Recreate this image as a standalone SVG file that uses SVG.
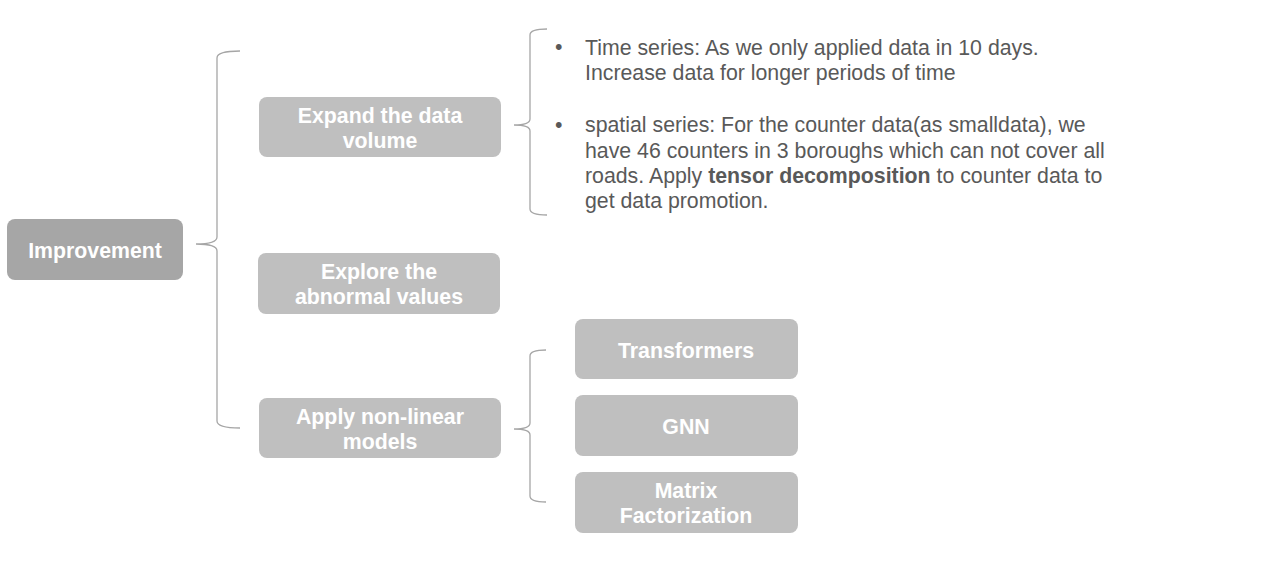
<svg xmlns="http://www.w3.org/2000/svg" width="1261" height="565" viewBox="0 0 1261 565">
<style>
.box{fill:#bfbfbf}
.root{fill:#a6a6a6}
.lbl{font-family:"Liberation Sans",Arial,sans-serif;font-size:21.3px;font-weight:bold;fill:#ffffff;text-anchor:middle}
.txt{font-family:"Liberation Sans",Arial,sans-serif;font-size:21.3px;fill:#595959}
.br{fill:none;stroke:#a6a6a6;stroke-width:1.3}
</style>
<rect width="1261" height="565" fill="#ffffff"/>
<g id="connectors">
<path class="br" d="M240,51 Q217,51 217,58 L217,237 Q217,244 196,244 Q217,244 217,251 L217,421 Q217,428 240,428"/>
<path class="br" d="M547,29 Q530,29 530,35 L530,119 Q530,125 514,125 Q530,125 530,131 L530,209 Q530,215 547,215"/>
<path class="br" d="M546,350 Q530,350 530,356 L530,423 Q530,429 514,429 Q530,429 530,435 L530,496 Q530,502 546,502"/>
</g>
<g id="improvement">
<rect class="root" x="7" y="219" width="176" height="61" rx="8"/>
<text class="lbl" x="95" y="258">Improvement</text>
</g>
<g id="expand">
<rect class="box" x="259" y="97" width="242" height="60" rx="8"/>
<text class="lbl" x="380" y="123">Expand the data</text>
<text class="lbl" x="380" y="148">volume</text>
</g>
<g id="explore">
<rect class="box" x="258" y="253" width="242" height="61" rx="8"/>
<text class="lbl" x="379" y="279">Explore the</text>
<text class="lbl" x="379" y="304">abnormal values</text>
</g>
<g id="apply">
<rect class="box" x="259" y="398" width="242" height="60" rx="8"/>
<text class="lbl" x="380" y="424">Apply non-linear</text>
<text class="lbl" x="380" y="449">models</text>
</g>
<g id="transformers">
<rect class="box" x="575" y="319" width="223" height="60" rx="8"/>
<text class="lbl" x="686" y="358">Transformers</text>
</g>
<g id="gnn">
<rect class="box" x="575" y="395" width="223" height="61" rx="8"/>
<text class="lbl" x="686" y="434">GNN</text>
</g>
<g id="matrix">
<rect class="box" x="575" y="472" width="223" height="61" rx="8"/>
<text class="lbl" x="686" y="498">Matrix</text>
<text class="lbl" x="686" y="523">Factorization</text>
</g>
<g id="notes">
<text class="txt" x="555" y="54">•</text>
<text class="txt" x="585" y="55">Time series: As we only applied data in 10 days.</text>
<text class="txt" x="585" y="80">Increase data for longer periods of time</text>
<text class="txt" x="555" y="132">•</text>
<text class="txt" x="585" y="132">spatial series: For the counter data(as smalldata), we</text>
<text class="txt" x="585" y="158">have 46 counters in 3 boroughs which can not cover all</text>
<text class="txt" x="585" y="183">roads. Apply <tspan font-weight="bold">tensor decomposition</tspan> to counter data to</text>
<text class="txt" x="585" y="208">get data promotion.</text>
</g>
</svg>
